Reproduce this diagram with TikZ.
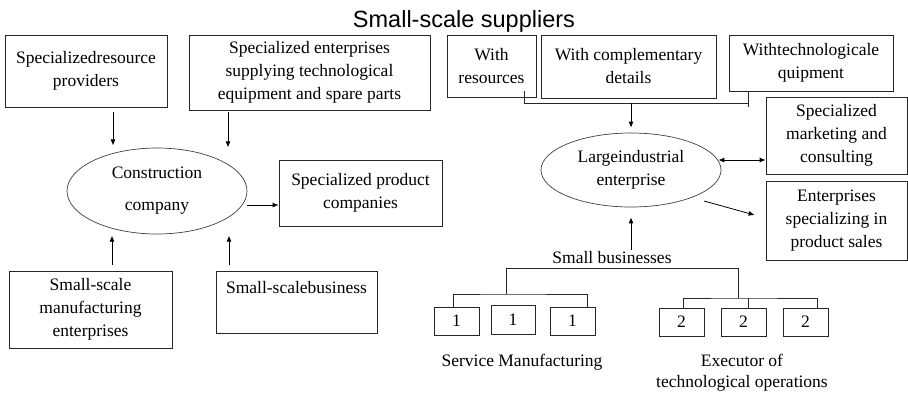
\documentclass[tikz,border=0pt]{standalone}
\usepackage{fontspec}
\setmainfont{Liberation Serif}
\newfontfamily\sansf{Liberation Sans}
\usetikzlibrary{arrows.meta,calc,shapes.geometric}
\tikzset{
  box/.style={draw=black!85, line width=0.8pt, inner sep=0pt, align=center,
    font=\fontsize{17.5}{23}\selectfont},
  oval/.style={draw=black!75, line width=0.7pt, ellipse, inner sep=0pt, align=center,
    font=\fontsize{17.5}{23}\selectfont},
  lbl/.style={inner sep=0pt, align=center, font=\fontsize{17.5}{21}\selectfont},
  arr/.style={draw=black, line width=0.8pt, -{Latex[length=6pt,width=5pt]}},
  dbl/.style={draw=black, line width=0.8pt, {Latex[length=6pt,width=5pt]}-{Latex[length=6pt,width=5pt]}},
  ln/.style={draw=black!85, line width=0.8pt},
}
\begin{document}
\begin{tikzpicture}[x=1pt,y=-1pt]
\useasboundingbox (0,0) rectangle (908,392);
\fill[white] (0,0) rectangle (908,392);

% title
\node[anchor=base, inner sep=0pt, font=\sansf\fontsize{23.5}{26}\selectfont] (title) at (464,27) {Small-scale suppliers};

% left part
\node[box, minimum width=162pt, minimum height=72pt] (A) at (86,71) {Specializedresource\\providers};
\node[box, minimum width=241pt, minimum height=75pt] (B) at (309.5,72.5) {Specialized enterprises\\supplying technological\\equipment and spare parts};
\node[oval, minimum width=180pt, minimum height=86pt] (C) at (157,191) {Construction\\[9pt]company};
\node[box, minimum width=163pt, minimum height=66pt] (P) at (360.5,193) {Specialized product\\companies};
\node[box, minimum width=163pt, minimum height=77pt] (M) at (90.5,309.5) {Small-scale\\manufacturing\\enterprises};
\node[box, minimum width=161pt, minimum height=62pt] (SB) at (296.5,302) {Small-scalebusiness\\[7pt]~};

\draw[arr] ($(A.south)+(27,5)$) -- ($(A.south)+(27,38)$);
\draw[arr] ($(B.south)+(-81.5,2)$) -- ($(B.south)+(-81.5,37)$);
\draw[arr] ($(C.east)+(0,14)$) -- ($(P.west)+(0,12)$);
\draw[arr] ($(M.north)+(21.5,-6)$) -- ($(M.north)+(21.5,-35)$);
\draw[arr] ($(SB.north)+(-67.5,-6)$) -- ($(SB.north)+(-67.5,-35)$);

% right part
\node[box, minimum width=89pt, minimum height=62pt] (WR) at (491.5,66) {With\\resources};
\node[box, minimum width=175pt, minimum height=63pt] (WC) at (628.5,66.5) {With complementary\\details};
\node[box, minimum width=164pt, minimum height=56pt] (WT) at (811,63) {Withtechnologicale\\quipment};
\node[oval, minimum width=180pt, minimum height=74pt] (L) at (631,170) {Largeindustrial\\enterprise};
\node[box, minimum width=141pt, minimum height=77pt] (MK) at (836.5,135.5) {Specialized\\marketing and\\consulting};
\node[box, minimum width=141pt, minimum height=79pt] (SL) at (836.5,220.5) {Enterprises\\specializing in\\product sales};

\coordinate (jl) at ($(WR.south)+(32.5,6)$);
\coordinate (jr) at ($(WT.south)+(-63,12)$);
\draw[ln] ($(WR.south)+(32.5,-6)$) -- (jl) -- (jr |- jl);
\draw[ln] ($(WT.south)+(-63,0)$) -- ($(WT.south)+(-63,16)$);
\draw[arr] (jl -| L.north) -- ($(L.north)+(0,-5)$);

\draw[dbl] ($(L.east)+(-3,-10)$) -- ($(MK.west)+(0,24.5)$);
\draw[arr] ($(L.center)+(73,31)$) -- ($(SL.west)+(-11,-5.5)$);

\node[lbl] (SBN) at (612,258) {Small businesses};
\draw[arr] ($(L.south)+(0,43)$) -- ($(L.south)+(0,10)$);

\node[box, minimum width=45pt, minimum height=28pt] (b11) at (456.5,321) {1};
\node[box, minimum width=44pt, minimum height=29pt] (b12) at (513,319.5) {1};
\node[box, minimum width=45pt, minimum height=28pt] (b13) at (572.5,321) {1};
\node[box, minimum width=45pt, minimum height=28pt] (b21) at (681.5,322) {2};
\node[box, minimum width=45pt, minimum height=28pt] (b22) at (743.5,322) {2};
\node[box, minimum width=45pt, minimum height=28pt] (b23) at (805.5,322) {2};

\coordinate (t1) at (506,268);
\coordinate (t2) at (738,268);
\coordinate (g1) at (506,294);
\coordinate (g2) at (738,298);
\draw[ln] (g1) -- (t1) -- (t2) -- (g2);
\draw[ln] ($(b11.north)+(-3.5,0)$) |- (g1) -| ($(b13.north)+(14.5,0)$);
\draw[ln] ($(b21.north)+(1.5,0)$) |- (g2) -| ($(b23.north)+(11.5,0)$);
\draw[ln] ($(b22.north)+(4.5,0)$) -- ($(b22.north)+(4.5,-10)$);

\node[lbl] (SM) at (522,362) {Service Manufacturing};
\node[lbl] (EX) at (742,373) {Executor of\\technological operations};
\end{tikzpicture}
\end{document}
